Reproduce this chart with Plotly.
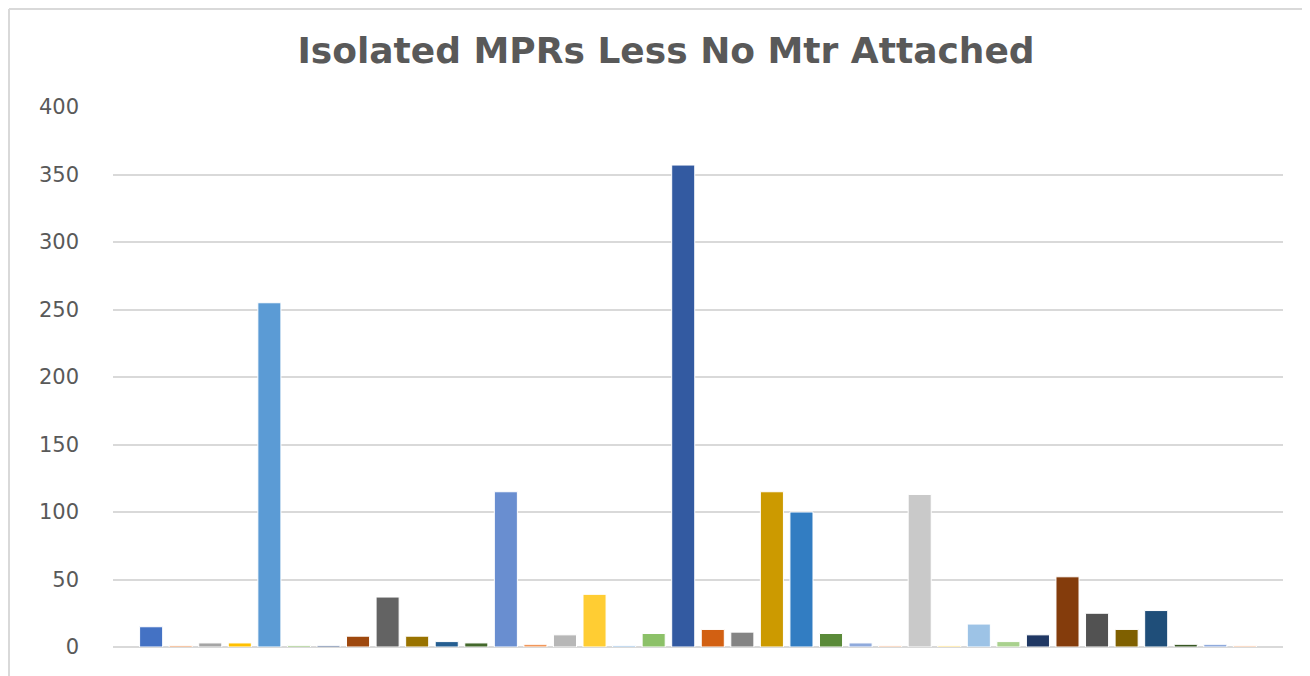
import plotly.graph_objects as go

values = [15, 1, 3, 3, 255, 1, 1, 8, 37, 8, 4, 3,
          115, 2, 9, 39, 1, 10, 357, 13, 11, 115, 100, 10,
          3, 1, 113, 1, 17, 4, 9, 52, 25, 13, 27, 2, 2, 1]
categories = [f"MPR {i+1}" for i in range(len(values))]
colors = ["#4472C4", "#ED7D31", "#A5A5A5", "#FFC000", "#5B9BD5", "#70AD47",
          "#264478", "#9E480E", "#636363", "#997300", "#255E91", "#43682B",
          "#698ED0", "#F1975A", "#B7B7B7", "#FFCD33", "#7CAFDD", "#8CC168",
          "#335AA1", "#D26012", "#848484", "#CC9A00", "#327DC2", "#5A8A39",
          "#8FAADC", "#F4B183", "#C9C9C9", "#FFD966", "#9DC3E6", "#A9D18E",
          "#203864", "#843C0C", "#525252", "#7F6000", "#1F4E79", "#375623",
          "#8FAADC", "#F4B183"]
y_ticks = [0, 50, 100, 150, 200, 250, 300, 350, 400]

fig = go.Figure(go.Bar(
    x=categories, y=values,
    marker=dict(color=colors, line=dict(color="white", width=1)),
))

pad = 0.79
W, H = 1310, 676
fig.update_layout(
    width=W, height=H,
    margin=dict(l=105, r=35, t=99, b=37),
    paper_bgcolor="white", plot_bgcolor="white",
    bargap=0.22,
    showlegend=False,
    title=dict(text="Isolated MPRs Less No Mtr Attached",
               font=dict(family="DejaVu Sans", size=36, color="#595959", weight="bold"),
               x=658/W, xanchor="center", y=1 - 42/H, yanchor="middle"),
    xaxis=dict(showticklabels=False, showgrid=False, showline=False,
               range=[-0.5 - pad, len(values) - 0.5 + pad], zeroline=False),
    yaxis=dict(range=[0, 400], tickvals=y_ticks, showgrid=True,
               gridcolor="#D9D9D9", gridwidth=2, zeroline=True,
               zerolinecolor="#D9D9D9", zerolinewidth=2, showline=False,
               tickfont=dict(family="DejaVu Sans", size=21, color="#595959"),
               ticklabelstandoff=33, ticks=""),
    shapes=[
        dict(type="line", xref="paper", yref="paper",
             x0=-104/1170, x1=1 + 40/1170, y0=1 + 98/540, y1=1 + 98/540,
             line=dict(color="#D9D9D9", width=2)),
        dict(type="line", xref="paper", yref="paper",
             x0=-104/1170, x1=-104/1170, y0=-40/540, y1=1 + 98/540,
             line=dict(color="#D9D9D9", width=2)),
    ],
)

fig.write_html("out.html")
